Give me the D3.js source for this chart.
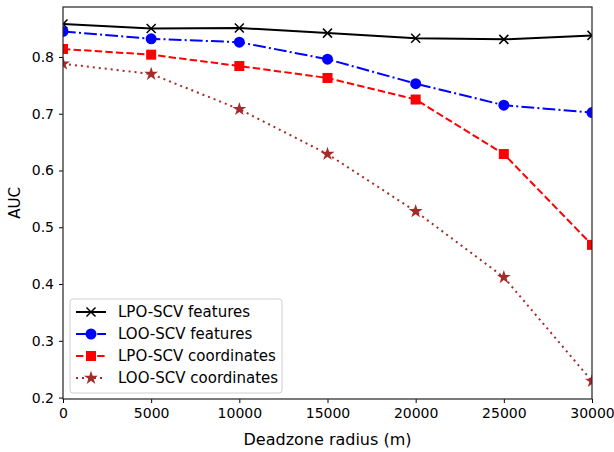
<!DOCTYPE html>
<html>
<head>
<meta charset="utf-8">
<script src="https://cdn.jsdelivr.net/npm/d3@7"></script>
<style>
  body { margin: 0; background: #fff; }
  svg text { font-family: "DejaVu Sans", sans-serif; fill: #000; }
</style>
</head>
<body>
<svg id="chart" width="614" height="452"></svg>
<script>
// deadzone radius values (m)
var radius = [0, 5000, 10000, 15000, 20000, 25000, 30000];

var lpoFeatures = [0.858, 0.850, 0.851, 0.842, 0.833, 0.831, 0.838];
var looFeatures = [0.845, 0.832, 0.826, 0.796, 0.753, 0.715, 0.702];
var lpoCoords = [0.814, 0.804, 0.784, 0.763, 0.725, 0.629, 0.469];
var looCoords = [0.788, 0.770, 0.708, 0.629, 0.528, 0.412, 0.229];

var xTicks = [0, 5000, 10000, 15000, 20000, 25000, 30000];
var yTicks = [0.2, 0.3, 0.4, 0.5, 0.6, 0.7, 0.8];

var series = [
    {name: "LPO-SCV features", vals: lpoFeatures, color: "#000000", dash: null, marker: "x"},
    {name: "LOO-SCV features", vals: looFeatures, color: "#0000ff", dash: "12.8,3.2,2,3.2", marker: "o"},
    {name: "LPO-SCV coordinates", vals: lpoCoords, color: "#ff0000", dash: "7.4,3.2", marker: "s"},
    {name: "LOO-SCV coordinates", vals: looCoords, color: "#a52a2a", dash: "2,4", marker: "*"}
];

var svg = d3.select("#chart");
var mLeft = 63, mRight = 592, mTop = 7, mBottom = 399;

var x = d3.scaleLinear().domain([0, 30000]).range([mLeft, mRight]);
var y = d3.scaleLinear().domain([0.1975, 0.888]).range([mBottom, mTop]);

// axes
svg.append("g")
    .attr("transform", "translate(0," + mBottom + ")")
    .call(d3.axisBottom(x).tickValues(xTicks).tickSize(4).tickPadding(5).tickFormat(d3.format("d")))
    .call(g => g.select(".domain").remove())
    .selectAll("text").style("font-size", "14px");

svg.append("g")
    .attr("transform", "translate(" + mLeft + ",0)")
    .call(d3.axisLeft(y).tickValues(yTicks).tickSize(4).tickPadding(5).tickFormat(d3.format(".1f")))
    .call(g => g.select(".domain").remove())
    .selectAll("text").style("font-size", "14px");

svg.selectAll(".tick line").attr("stroke", "#000").attr("stroke-width", 1);

var line = d3.line()
    .x((d, i) => x(radius[i]))
    .y(d => y(d));

svg.append("clipPath").attr("id", "plotclip")
    .append("rect").attr("x", mLeft).attr("y", mTop)
    .attr("width", mRight - mLeft).attr("height", mBottom - mTop);

var plot = svg.append("g").attr("clip-path", "url(#plotclip)");

function drawMarker(g, kind, cx, cy, color) {
    if (kind == "x") {
        g.append("path")
            .attr("d", "M" + (cx - 4.5) + "," + (cy - 4.5) + "L" + (cx + 4.5) + "," + (cy + 4.5) +
                "M" + (cx - 4.5) + "," + (cy + 4.5) + "L" + (cx + 4.5) + "," + (cy - 4.5))
            .attr("stroke", color).attr("stroke-width", 1.5).attr("fill", "none");
    } else if (kind == "o") {
        g.append("circle").attr("cx", cx).attr("cy", cy).attr("r", 5.5).attr("fill", color);
    } else if (kind == "s") {
        g.append("rect").attr("x", cx - 5).attr("y", cy - 5).attr("width", 10).attr("height", 10).attr("fill", color);
    } else {
        g.append("path")
            .attr("d", d3.symbol().type(d3.symbolStar).size(60)())
            .attr("transform", "translate(" + cx + "," + cy + ")")
            .attr("fill", color);
    }
}

series.forEach(s => {
    plot.append("path")
        .datum(s.vals)
        .attr("d", line)
        .attr("fill", "none")
        .attr("stroke", s.color)
        .attr("stroke-width", 2)
        .attr("stroke-dasharray", s.dash);
    s.vals.forEach((v, i) => drawMarker(plot, s.marker, x(radius[i]), y(v), s.color));
});

// frame
svg.append("rect")
    .attr("x", mLeft).attr("y", mTop)
    .attr("width", mRight - mLeft).attr("height", mBottom - mTop)
    .attr("fill", "none").attr("stroke", "#222").attr("stroke-width", 1.2);

// axis labels
svg.append("text")
    .attr("x", (mLeft + mRight) / 2).attr("y", 445)
    .attr("text-anchor", "middle")
    .style("font-size", "16px")
    .text("Deadzone radius (m)");

svg.append("text")
    .attr("transform", "translate(20," + ((mTop + mBottom) / 2) + ") rotate(-90)")
    .attr("text-anchor", "middle")
    .style("font-size", "15px")
    .text("AUC");

// legend
var legend = svg.append("g");
legend.append("rect")
    .attr("x", 70).attr("y", 299).attr("width", 212).attr("height", 94)
    .attr("rx", 3)
    .attr("fill", "#fff").attr("fill-opacity", 0.8)
    .attr("stroke", "#d0d0d0").attr("stroke-width", 1);

series.forEach((s, i) => {
    var ly = 312 + i * 22;
    legend.append("line")
        .attr("x1", 76).attr("x2", 106).attr("y1", ly).attr("y2", ly)
        .attr("stroke", s.color).attr("stroke-width", 2)
        .attr("stroke-dasharray", s.dash);
    drawMarker(legend, s.marker, 91, ly, s.color);
    legend.append("text")
        .attr("x", 118).attr("y", ly + 5)
        .style("font-size", "15px")
        .text(s.name);
});
</script>
</body>
</html>
